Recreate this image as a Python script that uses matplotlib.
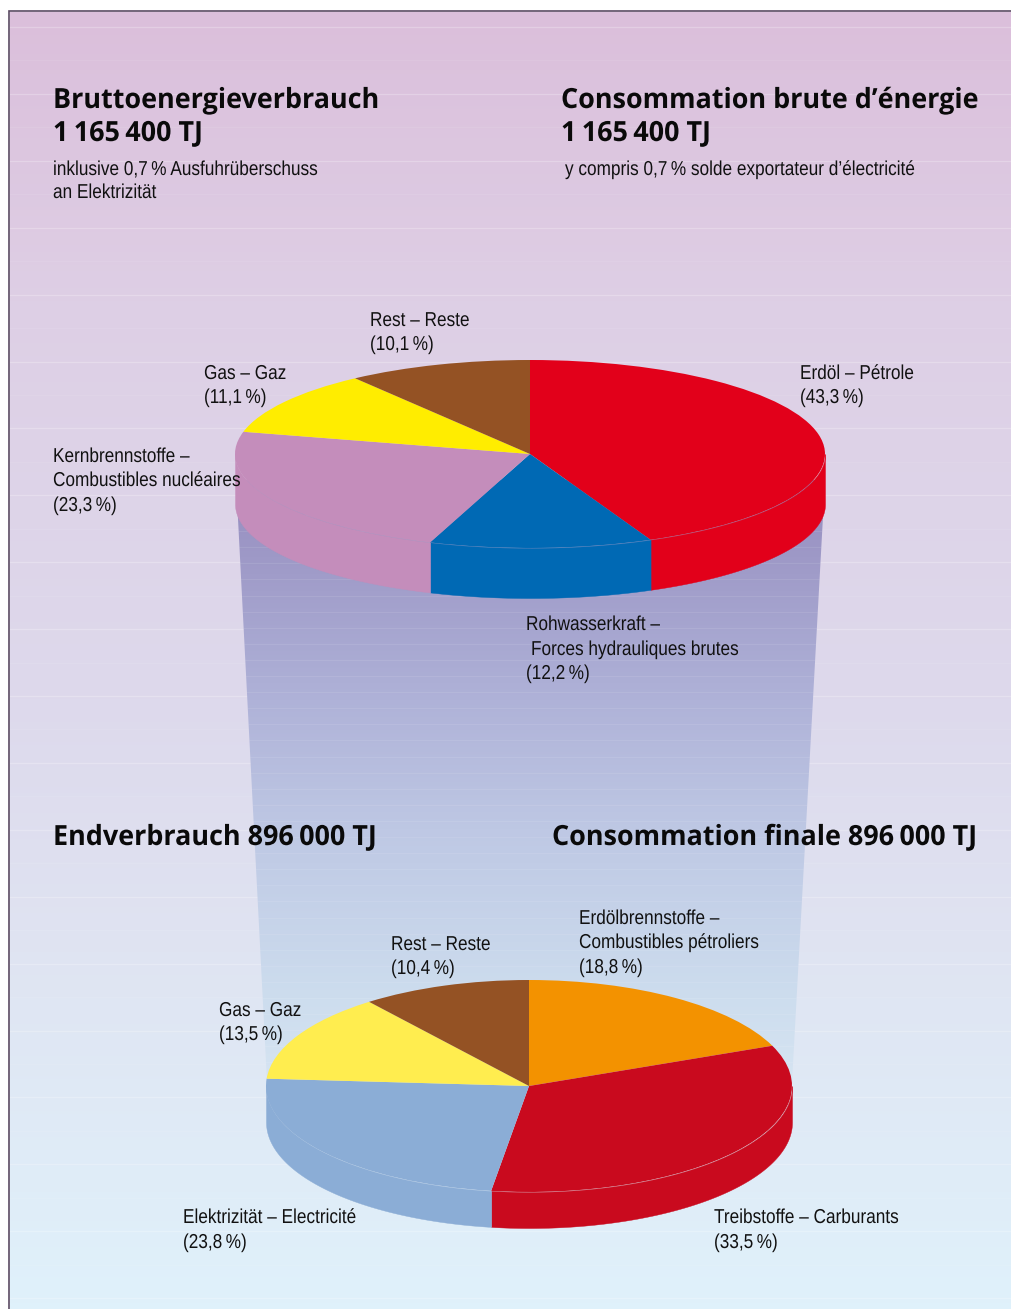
import numpy as np
import matplotlib
matplotlib.use("Agg")
import matplotlib.pyplot as plt
import matplotlib.patheffects as pe
from matplotlib.colors import LinearSegmentedColormap
from matplotlib.patches import Polygon

W, H = 1012, 1309
HEAD_FONT = ["Open Sans", "DejaVu Sans"]
BODY_FONT = ["Liberation Sans", "DejaVu Sans"]

# gross consumption, clockwise from 12 o'clock
gross_names = ["Erdöl", "Rohwasserkraft", "Kernbrennstoffe", "Gas", "Rest"]
gross_shares = [43.3, 12.2, 23.3, 11.1, 10.1]
gross_colors = ["#E2001A", "#0069B4", "#C48DBB", "#FFED00", "#945224"]

# final consumption
final_names = ["Erdölbrennstoffe", "Treibstoffe", "Elektrizität", "Gas", "Rest"]
final_shares = [18.8, 33.5, 23.8, 13.5, 10.4]
final_colors = ["#F39200", "#C90A1E", "#8BADD6", "#FFED4F", "#945224"]

# gradient stops (pixel row, colour)
bg_stops = [(12, "#DBBFDB"), (300, "#DECFE5"), (700, "#DDD9EC"), (1000, "#E0E6F3"), (1309, "#DFF1FB")]
funnel_stops = [(480, "#958CBE"), (700, "#AFB2D8"), (830, "#BEC8E4"), (1000, "#CDDDEE"), (1100, "#D8E6F3")]

head_texts = [
    "Bruttoenergieverbrauch",
    "1\u2009165\u2009400 TJ",
    "Consommation brute d’énergie",
    "1\u2009165\u2009400 TJ",
    "Endverbrauch 896\u2009000 TJ",
    "Consommation finale 896\u2009000 TJ",
]
body_texts = [
    "inklusive 0,7\u2009% Ausfuhrüberschuss",
    "an Elektrizität",
    "y compris 0,7\u2009% solde exportateur d’électricité",
    "Rest – Reste",
    "(10,1\u2009%)",
    "Erdöl – Pétrole",
    "(43,3\u2009%)",
    "Gas – Gaz",
    "(11,1\u2009%)",
    "Kernbrennstoffe –",
    "Combustibles nucléaires",
    "(23,3\u2009%)",
    "Rohwasserkraft –",
    "Forces hydrauliques brutes",
    "(12,2\u2009%)",
    "Erdölbrennstoffe –",
    "Combustibles pétroliers",
    "(18,8\u2009%)",
    "Rest – Reste",
    "(10,4\u2009%)",
    "Gas – Gaz",
    "(13,5\u2009%)",
    "Elektrizität – Electricité",
    "(23,8\u2009%)",
    "Treibstoffe – Carburants",
    "(33,5\u2009%)",
]

# baseline anchors in pixels, same order as the texts
HEAD_POS = [(53, 108), (53, 141), (561, 108), (561, 141), (53, 845), (552, 845)]
BODY_POS = [(53, 175), (53, 198), (565, 175), (370, 326), (370, 350), (800, 379), (800, 403),
            (204, 379), (204, 403), (53, 462), (53, 486), (53, 511), (526, 630), (531, 655),
            (526, 679), (579, 924), (579, 948), (579, 973), (391, 950), (391, 974), (219, 1016),
            (219, 1040), (183, 1223), (183, 1248), (714, 1223), (714, 1248)]


class Squeeze(pe.AbstractPathEffect):
    # no condensed font here, so narrow the glyphs when they are drawn
    def __init__(self, sx):
        super().__init__()
        self.sx = sx

    def draw_path(self, renderer, gc, tpath, affine, rgbFace=None):
        renderer.draw_path(gc, tpath, matplotlib.transforms.Affine2D().scale(self.sx, 1) + affine, rgbFace)


def stops_to_cmap(stops):
    lo, hi = stops[0][0], stops[-1][0]
    return LinearSegmentedColormap.from_list(
        "grad", [((y - lo) / (hi - lo), c) for y, c in stops]
    )


def draw_gradient(ax, stops, x0, x1, clip=None):
    img = ax.imshow(np.linspace(0, 1, 400)[:, None], cmap=stops_to_cmap(stops), aspect="auto",
                    extent=(x0, x1, stops[-1][0], stops[0][0]), zorder=1 if clip is None else 2)
    if clip is not None:
        img.set_clip_path(clip)


def draw_bands(ax, x0, x1, y0, y1):
    # faint white stripes of the printed gradient
    for i, y in enumerate(np.arange(27, H, 33.45)):
        if y0 <= y <= y1:
            ax.plot([x0, x1], [y, y], color="white", lw=0.9, alpha=0.24 if i % 2 == 0 else 0.08, zorder=1.5)


def draw_funnel_bands(ax, clip):
    for y in np.arange(515, 1100, 16.1):
        line, = ax.plot([230, 830], [y, y], color="white", lw=0.8, alpha=0.09, zorder=2.5)
        line.set_clip_path(clip)


def draw_pie(shares, colors, cx, cy, rx, ry, depth):
    d = depth / ry
    ax = fig.add_axes([(cx - rx) / W, 1 - (cy + ry + depth) / H, 2 * rx / W, (2 * ry + depth) / H], zorder=5)
    ax.patch.set_alpha(0)
    # side wall first, only the front half of the rim shows
    edges = 90 - np.cumsum([0] + shares) * 3.6
    for a0, a1, c in zip(edges[:-1], edges[1:], colors):
        t = np.linspace(np.radians(max(a1, -180)), np.radians(min(a0, 0)), 120)
        if t[-1] > t[0]:
            ax.fill_between(np.cos(t), np.sin(t), np.sin(t) - d, color=c, lw=0.3, zorder=1)
    ax.pie(shares, colors=colors, startangle=90, counterclock=False, radius=1,
           wedgeprops={"linewidth": 0.3, "zorder": 2})
    t = np.linspace(np.radians(-180), 0, 200)
    ax.plot(np.cos(t), np.sin(t), color="white", lw=0.4, alpha=0.05, zorder=3)
    ax.set_aspect("auto")
    ax.set_xlim(-1, 1)
    ax.set_ylim(-1 - d, 1)
    ax.axis("off")


fig = plt.figure(figsize=(W / 100, H / 100), dpi=100, facecolor="white")
bg = fig.add_axes([0, 0, 1, 1], zorder=1)
bg.axis("off")

draw_gradient(bg, bg_stops, 10, W + 2)
draw_bands(bg, 10, W + 2, 12, H)

funnel = Polygon([(236, 480), (825, 480), (791, 1100), (268, 1100)], closed=True,
                 transform=bg.transData, fc="none", ec="none")
bg.add_patch(funnel)
draw_gradient(bg, funnel_stops, 230, 830, clip=funnel)
draw_funnel_bands(bg, funnel)
bg.set_xlim(0, W)
bg.set_ylim(H, 0)

# frame only on top and left
bg.plot([9.5, 9.5, W + 2], [H, 11, 11], color="#5A4A62", lw=1.2, zorder=3, solid_joinstyle="miter")

draw_pie(gross_shares, gross_colors, 530, 454, 295, 94, 50)
draw_pie(final_shares, final_colors, 529, 1086, 263, 106, 36)

top = fig.add_axes([0, 0, 1, 1], zorder=10)
top.set_xlim(0, W)
top.set_ylim(H, 0)
top.axis("off")
for s, (x, y) in zip(head_texts, HEAD_POS):
    top.text(x, y, s, family=HEAD_FONT, fontweight="bold", fontsize=20, color="#0A0A0A", va="baseline",
             path_effects=[Squeeze(0.97)])
for s, (x, y) in zip(body_texts, BODY_POS):
    top.text(x, y, s, family=BODY_FONT, fontsize=14.5, color="#111111", va="baseline",
             path_effects=[Squeeze(0.855)])

fig.savefig("out.png", dpi=100)
